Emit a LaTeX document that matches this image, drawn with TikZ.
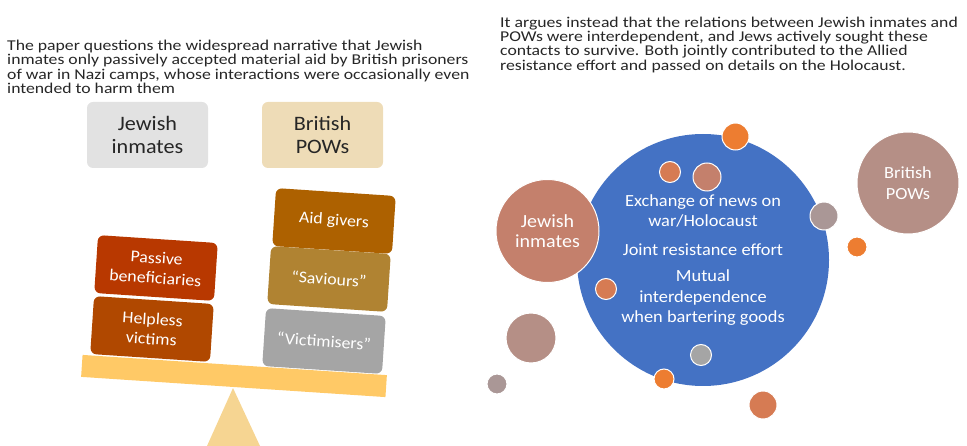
\documentclass[tikz,border=0pt]{standalone}
\usepackage{fontspec}
\setmainfont[FakeStretch=1.08]{Carlito}
\newfontfamily\widefont[FakeStretch=1.18]{Carlito}

\definecolor{textgray}{HTML}{262626}
\definecolor{inmategray}{HTML}{E2E2E2}
\definecolor{powsand}{HTML}{EEDCB7}
\definecolor{passivered}{HTML}{B83800}
\definecolor{helplessbrown}{HTML}{B04800}
\definecolor{aidochre}{HTML}{AD6100}
\definecolor{saviourgold}{HTML}{B08332}
\definecolor{victimgray}{HTML}{A5A5A5}
\definecolor{beamyellow}{HTML}{FFC966}
\definecolor{fulcrumsand}{HTML}{F6D592}
\definecolor{exchblue}{HTML}{4472C4}
\definecolor{inmatesalmon}{HTML}{C4806C}
\definecolor{powrose}{HTML}{B58F86}
\definecolor{dotorange}{HTML}{ED7D31}
\definecolor{dotsalmon}{HTML}{D67B53}
\definecolor{dotmauve}{HTML}{AA9796}

\tikzset{
  claimtext/.style={anchor=north west, align=left, inner sep=0pt, text=textgray,
    font=\widefont\fontsize{15}{14.3}\selectfont},
  headbox/.style={rounded corners=6pt, minimum width=121pt, minimum height=66pt,
    align=center, text=textgray, font=\fontsize{20.5}{23}\selectfont},
  rolebox/.style={rounded corners=6pt, minimum width=120pt, minimum height=58pt,
    align=center, text=white, rotate=-3.8, font=\fontsize{16.5}{20}\selectfont},
  bubble/.style={circle, inner sep=0pt, draw=white, line width=1pt},
  bubbletext/.style={align=center, text=white, font=\fontsize{17}{20.5}\selectfont}
}

\begin{document}
\begin{tikzpicture}[x=1pt,y=-1pt]
\useasboundingbox (0,0) rectangle (967,446);

% Texts on top
\node[claimtext] (claimold) at (7,40)
  {The paper questions the widespread narrative that Jewish\\
   inmates only passively accepted material aid by British prisoners\\
   of war in Nazi camps, whose interactions were occasionally even\\
   intended to harm them};

\node[claimtext] (claimnew) at (500,16.5)
  {It argues instead that the relations between Jewish inmates and\\
   POWs were interdependent, and Jews actively sought these\\
   contacts to survive. Both jointly contributed to the Allied\\
   resistance effort and passed on details on the Holocaust.};

% Scale
\node[headbox, fill=inmategray] (headjew) at (147.5,135) {Jewish\\inmates};
\node[headbox, fill=powsand] (headpow) at (322.5,135) {British\\POWs};

\fill[fulcrumsand] (233,388) -- (260,446) -- (207,446) -- cycle;
\node[fill=beamyellow, minimum width=305pt, minimum height=22pt, rotate=-3.8] (beam) at (234,376) {};

\node[rolebox, fill=helplessbrown] (helpless) at (152,329) {Helpless\\victims};
\node[rolebox, fill=passivered] (passive) at (156,268) {Passive\\beneficiaries};
\node[rolebox, fill=victimgray] (victimiser) at (324,341) {``Victimisers''};
\node[rolebox, fill=saviourgold] (saviour) at (329,279) {``Saviours''};
\node[rolebox, fill=aidochre] (aidgiver) at (334,221) {Aid givers};

% Bubbles
\node[bubble, draw=none, fill=exchblue, minimum size=252pt] (exchange) at (703,260) {};
\node[bubble, fill=inmatesalmon, minimum size=103pt] (inmates) at (547.5,231) {};
\node[bubble, fill=powrose, minimum size=102pt] (pows) at (908,183) {};

\foreach \x/\y/\r/\c [count=\n] in {
  735.5/136.5/13.5/dotorange, 670/172/10.5/dotsalmon, 707/177/14/inmatesalmon,
  824/216/14/dotmauve, 857/247/10/dotorange, 606/289/10.5/dotsalmon,
  531/338/25/powrose, 497/384/10/dotmauve, 701/355/10.5/victimgray,
  664/379/10/dotorange, 763/405/14/dotsalmon}
{
  \node[bubble, fill=\c, minimum size=2*\r pt] (dot\n) at (\x,\y) {};
}

\node[bubbletext] (news) at (703,211) {Exchange of news on\\war/Holocaust};
\node[bubbletext] (resist) at (703,250) {Joint resistance effort};
\node[bubbletext] (mutual) at (703,298) {Mutual\\interdependence\\when bartering goods};
\node[bubbletext, font=\fontsize{18.5}{20.5}\selectfont] at (inmates) {Jewish\\inmates};
\node[bubbletext] at (pows) {British\\POWs};

\end{tikzpicture}
\end{document}
